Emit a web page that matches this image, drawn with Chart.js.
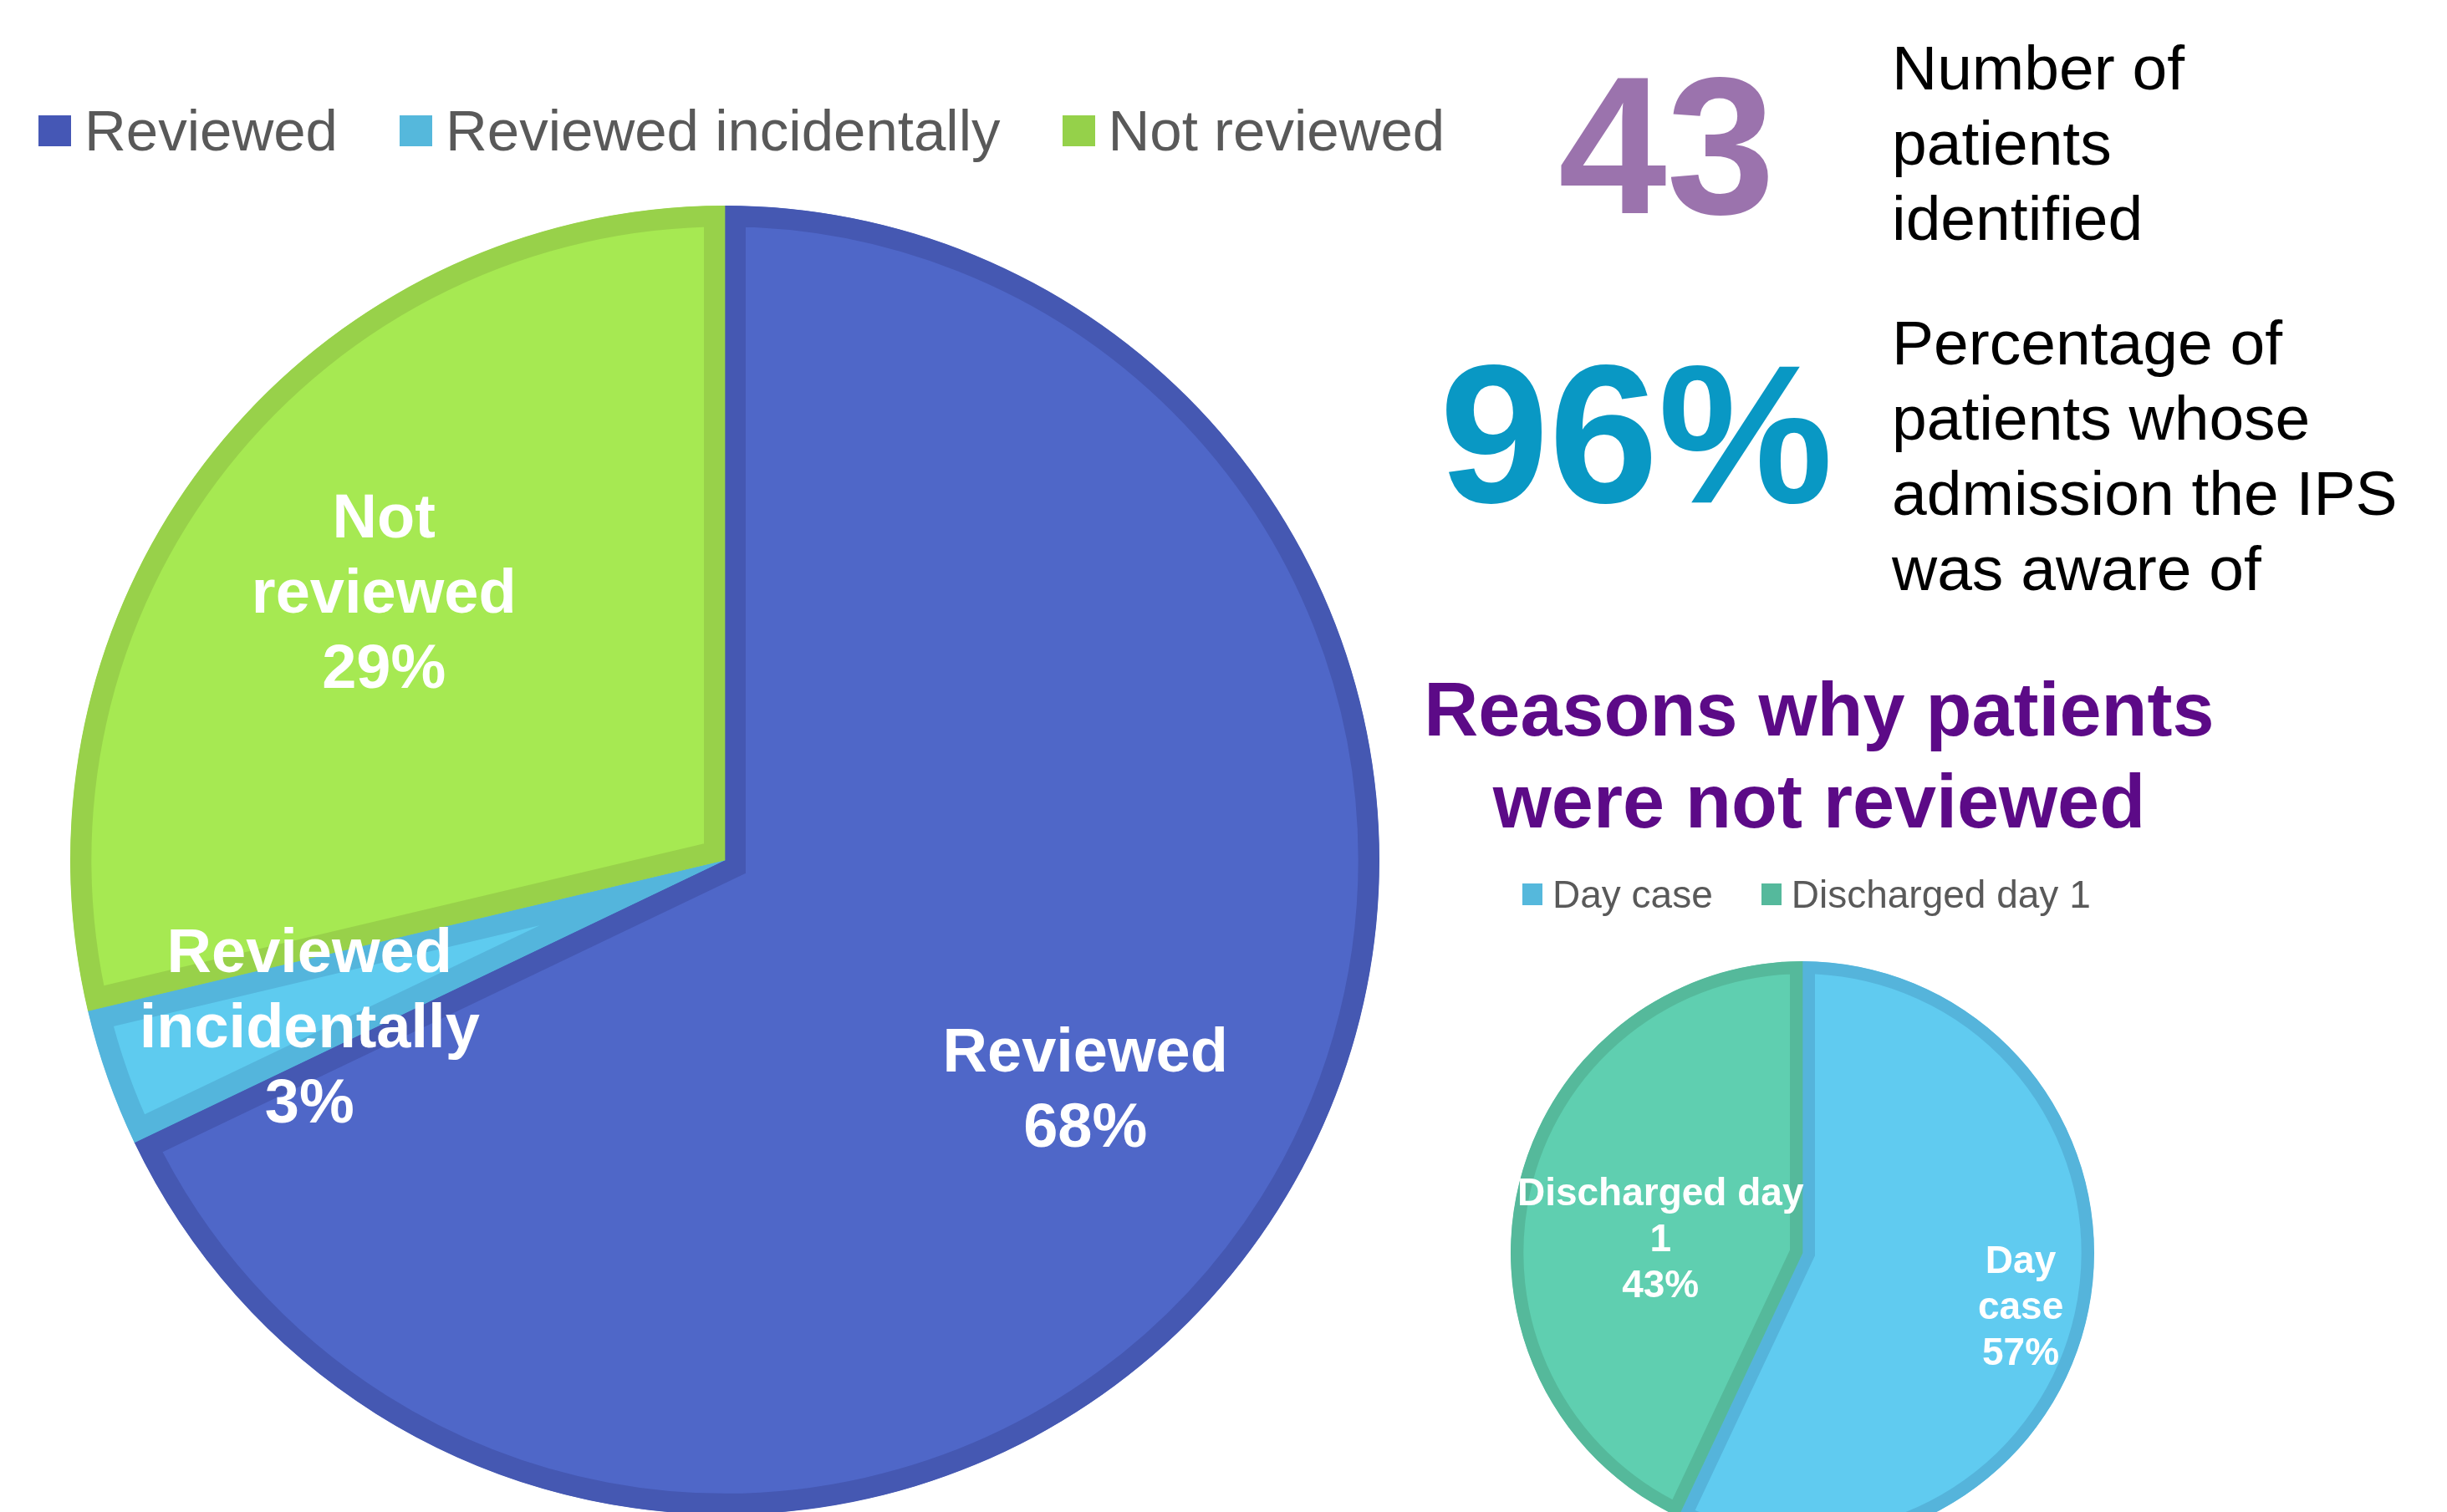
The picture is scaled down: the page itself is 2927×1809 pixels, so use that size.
<!DOCTYPE html>
<html>
<head>
<meta charset="utf-8">
<script src="https://cdn.jsdelivr.net/npm/chart.js@4.4.1/dist/chart.umd.min.js"></script>
<style>
html,body{margin:0;padding:0;background:#fff;width:2927px;height:1809px;overflow:hidden;font-family:"Liberation Sans",Arial,sans-serif;}
canvas{position:absolute;left:0;top:0;}
.abs{position:absolute;white-space:nowrap;}
.legend{display:flex;align-items:center;}
.legend .item{display:flex;align-items:center;}
.legend .txt{color:#595959;}
#bigLegend .item{margin-right:74px;}
#bigLegend .sw{width:39px;height:37px;margin-right:16px;}
#bigLegend .txt{font-size:69px;line-height:69px;}
#smallLegend .item{margin-right:58px;}
#smallLegend .sw{width:24px;height:26px;margin-right:12px;}
#smallLegend .txt{font-size:46px;line-height:46px;}
.big43{left:1864px;top:58px;font-size:233px;line-height:233px;font-weight:bold;color:#9b73ad;}
.big96{left:1722px;top:402px;font-size:235px;line-height:235px;font-weight:bold;color:#0998c4;}
.desc{font-size:75px;line-height:90px;color:#000;}
.title{left:1676px;top:794px;width:1000px;text-align:center;font-size:90px;line-height:110px;font-weight:bold;color:#5c0a87;}
</style>
</head>
<body>
<canvas id="bigPie" width="2927" height="1809"></canvas>
<canvas id="smallPie" width="2927" height="1809"></canvas>
<div id="bigLegend" class="abs legend" style="left:46px;top:122px;"></div>
<div class="abs big43">43</div>
<div class="abs desc" style="left:2263px;top:36px;">Number of<br>patients<br>identified</div>
<div class="abs big96">96%</div>
<div class="abs desc" style="left:2263px;top:365px;">Percentage of<br>patients whose<br>admission the IPS<br>was aware of</div>
<div class="abs title">Reasons why patients<br>were not reviewed</div>
<div id="smallLegend" class="abs legend" style="left:1821px;top:1047px;"></div>
<script>
// ---- Data ----
const bigCategories = ['Reviewed', 'Reviewed incidentally', 'Not reviewed'];
const bigValues = [67.9, 3.4, 28.7];
const bigPctLabels = ['68%', '3%', '29%'];
const bigSliceText = [['Reviewed'], ['Reviewed', 'incidentally'], ['Not', 'reviewed']];

const smallCategories = ['Day case', 'Discharged day 1'];
const smallValues = [57, 43];
const smallPctLabels = ['57%', '43%'];
const smallSliceText = [['Day', 'case'], ['Discharged day', '1']];

// ---- Styles ----
const bigFill = ['#4f67c8', '#5ecbef', '#a6e952'];
const bigBorder = ['#4558b2', '#54b5dc', '#98d14a'];
const bigLegendColor = ['#4557b5', '#55b8dc', '#95d14a'];
const smallFill = ['#60cbf0', '#5fcfb0'];
const smallBorder = ['#55b4db', '#55b99b'];
const smallLegendColor = ['#55b8dc', '#55b99c'];

const sliceLabels = {
  id: 'sliceLabels',
  afterDatasetsDraw(chart, args, opts) {
    const ctx = chart.ctx;
    const meta = chart.getDatasetMeta(0);
    ctx.save();
    ctx.fillStyle = opts.color;
    ctx.font = opts.font;
    ctx.textAlign = 'center';
    ctx.textBaseline = 'middle';
    meta.data.forEach((arc, i) => {
      const p = arc.getProps(['x', 'y', 'startAngle', 'endAngle', 'outerRadius'], true);
      const mid = (p.startAngle + p.endAngle) / 2 + (opts.angleOffset[i] || 0) * Math.PI / 180;
      const r = p.outerRadius * opts.radius[i];
      const cx = p.x + Math.cos(mid) * r;
      const cy = p.y + Math.sin(mid) * r + opts.dy;
      const lines = opts.text[i].concat([opts.pct[i]]);
      lines.forEach((ln, k) => {
        ctx.fillText(ln, cx, cy + (k - (lines.length - 1) / 2) * opts.lineHeight);
      });
    });
    ctx.restore();
  }
};

function buildLegend(id, cats, colors) {
  const el = document.getElementById(id);
  cats.forEach((c, i) => {
    const it = document.createElement('div');
    it.className = 'item';
    const sw = document.createElement('div');
    sw.className = 'sw';
    sw.style.background = colors[i];
    const tx = document.createElement('div');
    tx.className = 'txt';
    tx.textContent = c;
    it.appendChild(sw); it.appendChild(tx);
    el.appendChild(it);
  });
}
buildLegend('bigLegend', bigCategories, bigLegendColor);
buildLegend('smallLegend', smallCategories, smallLegendColor);

const W = 2927, H = 1809;
// Big pie: centre (867,1029), radius 783
const bigCx = 867, bigCy = 1029;
new Chart(document.getElementById('bigPie'), {
  type: 'pie',
  data: {
    labels: bigCategories,
    datasets: [{
      data: bigValues,
      backgroundColor: bigFill,
      borderColor: bigBorder,
      borderWidth: 25,
      hoverBorderWidth: 0,
      borderAlign: 'inner',
      borderJoinStyle: 'miter',
      clip: false
    }]
  },
  options: {
    responsive: false,
    animation: false,
    devicePixelRatio: 1,
    radius: 783,
    layout: { padding: { left: 0, right: W - 2 * bigCx, top: 2 * bigCy - H, bottom: 0 } },
    events: [],
    plugins: {
      legend: { display: false },
      tooltip: { enabled: false },
      sliceLabels: {
        color: '#ffffff',
        font: 'bold 74px "Liberation Sans", Arial, sans-serif',
        lineHeight: 90,
        radius: [0.651, 0.683, 0.664],
        angleOffset: [0, -2.3, 0],
        dy: 6,
        text: bigSliceText,
        pct: bigPctLabels
      }
    }
  },
  plugins: [sliceLabels]
});

// Small pie: centre (2156,1499), radius 349
const smCx = 2156, smCy = 1499;
new Chart(document.getElementById('smallPie'), {
  type: 'pie',
  data: {
    labels: smallCategories,
    datasets: [{
      data: smallValues,
      backgroundColor: smallFill,
      borderColor: smallBorder,
      borderWidth: 15,
      hoverBorderWidth: 0,
      borderAlign: 'inner',
      borderJoinStyle: 'miter',
      clip: false
    }]
  },
  options: {
    responsive: false,
    animation: false,
    devicePixelRatio: 1,
    radius: 349,
    layout: { padding: { left: 2 * smCx - W, right: 0, top: 2 * smCy - H, bottom: 0 } },
    events: [],
    plugins: {
      legend: { display: false },
      tooltip: { enabled: false },
      sliceLabels: {
        color: '#ffffff',
        font: 'bold 46px "Liberation Sans", Arial, sans-serif',
        lineHeight: 55,
        radius: [0.768, 0.49],
        angleOffset: [0.5, -5.8],
        dy: 6,
        text: smallSliceText,
        pct: smallPctLabels
      }
    }
  },
  plugins: [sliceLabels]
});
</script>
</body>
</html>
